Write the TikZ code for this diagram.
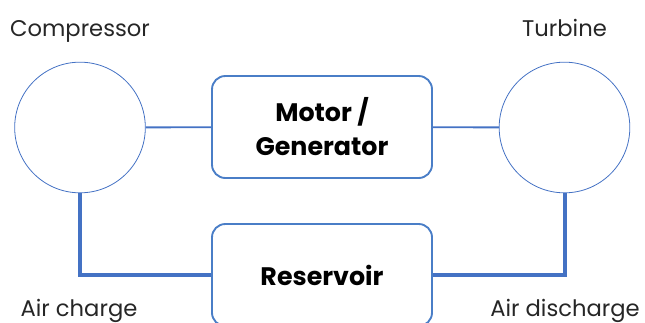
\documentclass[tikz,border=0pt]{standalone}
\usepackage{fontspec}
\setmainfont{Poppins}
\usetikzlibrary{positioning}
\definecolor{lineblue}{RGB}{68,114,196}
\definecolor{boxblue}{RGB}{74,126,199}
\definecolor{labelgray}{RGB}{38,38,38}

\begin{document}
\begin{tikzpicture}[x=0.75pt,y=-0.75pt,
					font=\fontsize{17}{20}\selectfont,text=labelgray]
					\tikzstyle{machine}=[circle,draw=lineblue,line width=0.6pt,
					minimum size=98pt,inner sep=0pt]
					\tikzstyle{unit}=[rectangle,draw=boxblue,line width=1.4pt,rounded corners=10pt,
					minimum width=165pt,minimum height=76.5pt,align=center,text=black,
					font=\fontsize{19}{25.5}\selectfont\bfseries]
					\tikzstyle{caption}=[anchor=base,inner sep=0pt]
					\tikzstyle{shaft}=[draw=lineblue,line width=1.4pt]
					\tikzstyle{pipe}=[draw=lineblue,line width=3pt]
					
					\useasboundingbox (0,0) rectangle (645,322);
					
					\node[machine] (C) at (80,127.5)  {};
					\node[machine] (T) at (564.5,127.5) {};
					\node[unit]    (M) at (322,127)   {Motor /\\Generator};
					\node[unit]    (R) at (322,275)   {Reservoir};
					
					\node[caption] (Cl) at (80,36.5)    {Compressor};
					\node[caption] (Tl) at (564.5,36.5) {Turbine};
					\node[caption] (Al) at (79,316)     {Air charge};
					\node[caption] (Dl) at (565,316)    {Air discharge};
					
					\path[shaft] (C) -- (M) -- (T);
					\path[pipe] (C.south) |- (R.west);
					\path[pipe] (T.south) |- (R.east);
					\end{tikzpicture}
\end{document}
